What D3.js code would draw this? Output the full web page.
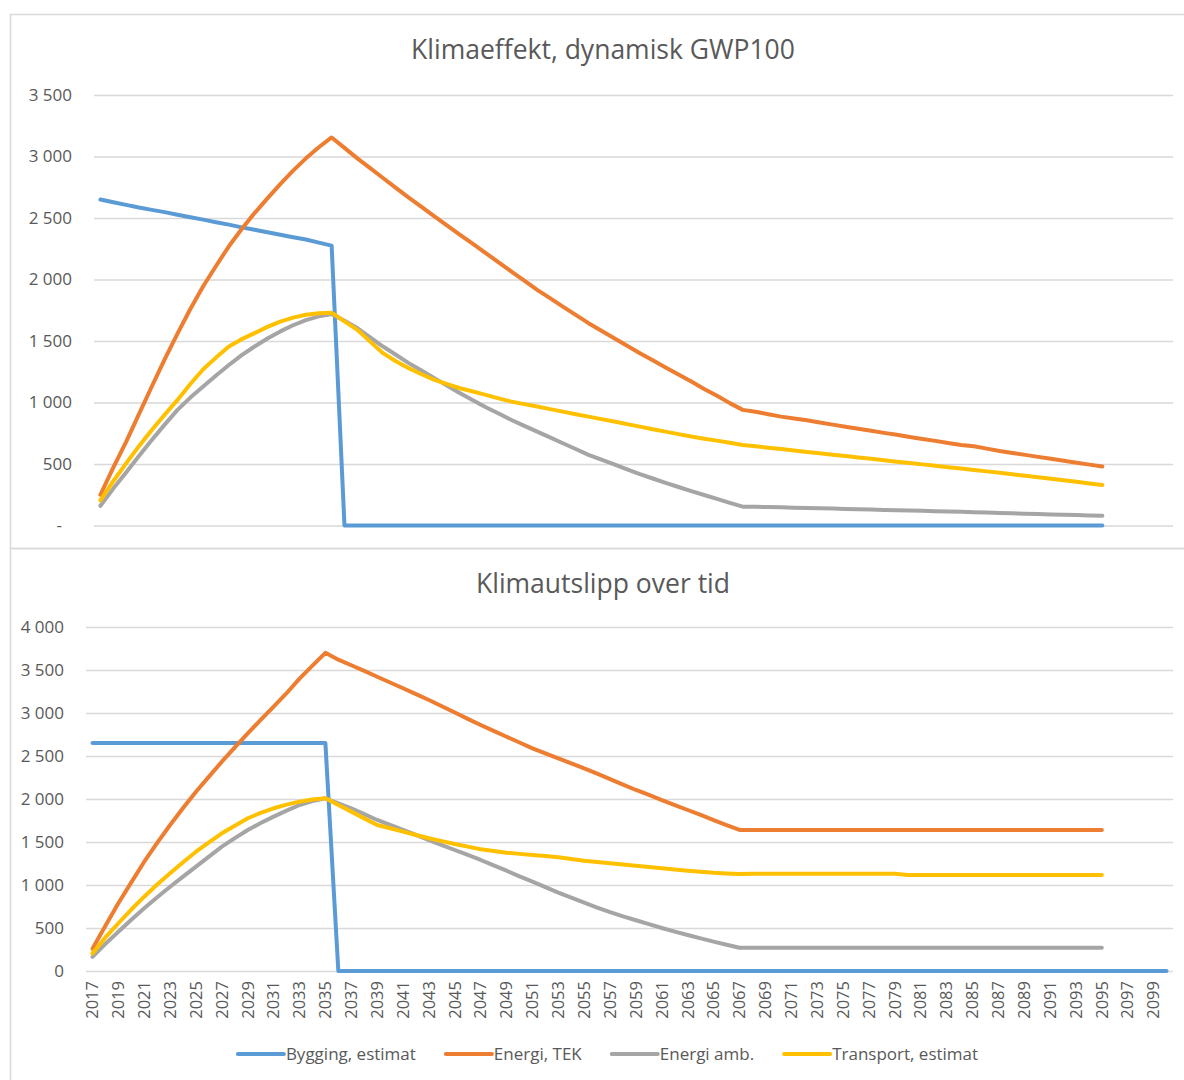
<!DOCTYPE html>
<html>
<head>
<meta charset="utf-8">
<script src="https://cdn.jsdelivr.net/npm/d3@7"></script>
<style>
	body { margin: 0; background: #fff; }
	svg { display: block; }
	text { font-family: "Open Sans", sans-serif; fill: #595959; }
</style>
</head>
<body>
<svg width="1184" height="1080"></svg>
<script>
const years = [2017, 2018, 2019, 2020, 2021, 2022, 2023, 2024, 2025, 2026, 2027, 2028, 2029, 2030,
	2031, 2032, 2033, 2034, 2035, 2036, 2037, 2038, 2039, 2040, 2041, 2042, 2043, 2044, 2045, 2046,
	2047, 2048, 2049, 2050, 2051, 2052, 2053, 2054, 2055, 2056, 2057, 2058, 2059, 2060, 2061, 2062,
	2063, 2064, 2065, 2066, 2067, 2068, 2069, 2070, 2071, 2072, 2073, 2074, 2075, 2076, 2077, 2078,
	2079, 2080, 2081, 2082, 2083, 2084, 2085, 2086, 2087, 2088, 2089, 2090, 2091, 2092, 2093, 2094,
	2095, 2096, 2097, 2098, 2099, 2100]

const seriesNames = ['Bygging, estimat', 'Energi, TEK', 'Energi amb.', 'Transport, estimat']
const colors = ['#5b9bd5', '#ed7d31', '#a5a5a5', '#ffc000']

const titleTop = 'Klimaeffekt, dynamisk GWP100'
const titleBottom = 'Klimautslipp over tid'
const ticksTop = [0, 500, 1000, 1500, 2000, 2500, 3000, 3500]
const ticksBottom = [0, 500, 1000, 1500, 2000, 2500, 3000, 3500, 4000]

// Klimaeffekt, dynamisk GWP100 (2017-2095)
const gwpBygging = [2650, 2628, 2607, 2585, 2566, 2548, 2527, 2506, 2487, 2466, 2446, 2424, 2405, 2384,
	2364, 2344, 2325, 2300, 2275, 0, 0, 0, 0, 0, 0, 0, 0, 0, 0, 0, 0, 0, 0, 0, 0, 0, 0, 0, 0, 0, 0, 0,
	0, 0, 0, 0, 0, 0, 0, 0, 0, 0, 0, 0, 0, 0, 0, 0, 0, 0, 0, 0, 0, 0, 0, 0, 0, 0, 0, 0, 0, 0, 0, 0, 0,
	0, 0, 0, 0]
const gwpEnergiTek = [250, 470, 680, 905, 1130, 1350, 1560, 1760, 1945, 2110, 2270, 2410, 2540, 2660,
	2775, 2885, 2985, 3075, 3155, 3070, 2985, 2905, 2825, 2745, 2665, 2590, 2513, 2438, 2363, 2290,
	2215, 2140, 2065, 1990, 1916, 1848, 1780, 1712, 1645, 1583, 1522, 1462, 1401, 1343, 1285, 1228,
	1170, 1110, 1055, 995, 940, 925, 905, 885, 870, 855, 838, 820, 803, 787, 770, 753, 737, 720, 703,
	688, 670, 655, 645, 625, 606, 590, 574, 558, 542, 527, 510, 495, 480]
const gwpEnergiAmb = [160, 300, 430, 565, 695, 820, 940, 1040, 1130, 1220, 1305, 1385, 1455, 1520,
	1578, 1628, 1670, 1700, 1720, 1665, 1605, 1530, 1455, 1388, 1320, 1260, 1198, 1137, 1076, 1018,
	962, 910, 858, 810, 763, 716, 669, 622, 574, 535, 496, 457, 418, 382, 347, 313, 280, 248, 216, 184,
	153, 152, 150, 148, 145, 142, 140, 138, 135, 132, 130, 127, 124, 122, 119, 116, 113, 111, 108, 105,
	102, 99, 96, 93, 90, 88, 85, 82, 80]
const gwpTransport = [205, 360, 505, 645, 777, 900, 1021, 1150, 1270, 1365, 1455, 1515, 1564, 1615,
	1658, 1690, 1713, 1725, 1730, 1660, 1591, 1495, 1401, 1335, 1279, 1230, 1184, 1150, 1116, 1089,
	1062, 1034, 1007, 987, 967, 946, 926, 905, 885, 865, 845, 824, 804, 783, 763, 743, 723, 706, 690,
	672, 655, 645, 633, 622, 610, 598, 587, 576, 565, 553, 542, 530, 519, 508, 497, 486, 474, 463, 452,
	440, 428, 416, 404, 392, 380, 368, 355, 342, 330]

// Klimautslipp over tid (Bygging 2017-2100, others 2017-2095)
const utslippBygging = [2650, 2650, 2650, 2650, 2650, 2650, 2650, 2650, 2650, 2650, 2650, 2650, 2650,
	2650, 2650, 2650, 2650, 2650, 2650, 0, 0, 0, 0, 0, 0, 0, 0, 0, 0, 0, 0, 0, 0, 0, 0, 0, 0, 0, 0, 0,
	0, 0, 0, 0, 0, 0, 0, 0, 0, 0, 0, 0, 0, 0, 0, 0, 0, 0, 0, 0, 0, 0, 0, 0, 0, 0, 0, 0, 0, 0, 0, 0, 0,
	0, 0, 0, 0, 0, 0, 0, 0, 0, 0, 0]
const utslippEnergiTek = [260, 525, 787, 1030, 1271, 1490, 1698, 1895, 2085, 2260, 2434, 2600, 2764,
	2920, 3073, 3230, 3400, 3550, 3700, 3620, 3555, 3490, 3422, 3355, 3288, 3220, 3151, 3078, 3005,
	2932, 2860, 2792, 2724, 2657, 2589, 2530, 2472, 2415, 2357, 2294, 2231, 2168, 2105, 2047, 1988,
	1930, 1872, 1815, 1755, 1695, 1640, 1640, 1640, 1640, 1640, 1640, 1640, 1640, 1640, 1640, 1640,
	1640, 1640, 1640, 1640, 1640, 1640, 1640, 1640, 1640, 1640, 1640, 1640, 1640, 1640, 1640, 1640,
	1640, 1640]
const utslippEnergiAmb = [165, 315, 457, 595, 729, 857, 980, 1098, 1213, 1330, 1446, 1545, 1640, 1720,
	1795, 1865, 1930, 1975, 2008, 1950, 1892, 1825, 1756, 1698, 1640, 1582, 1523, 1465, 1407, 1349,
	1291, 1228, 1166, 1100, 1039, 975, 911, 852, 794, 738, 684, 636, 590, 545, 500, 458, 418, 380, 342,
	305, 270, 270, 270, 270, 270, 270, 270, 270, 270, 270, 270, 270, 270, 270, 270, 270, 270, 270, 270,
	270, 270, 270, 270, 270, 270, 270, 270, 270, 270]
const utslippTransport = [205, 390, 555, 715, 864, 1005, 1136, 1265, 1387, 1495, 1601, 1690, 1776,
	1838, 1892, 1935, 1969, 1995, 2010, 1930, 1853, 1775, 1698, 1660, 1620, 1582, 1543, 1510, 1477,
	1446, 1415, 1395, 1376, 1362, 1349, 1336, 1322, 1302, 1283, 1268, 1252, 1238, 1224, 1209, 1194,
	1180, 1166, 1155, 1143, 1135, 1128, 1130, 1130, 1130, 1130, 1130, 1130, 1130, 1130, 1130, 1130,
	1130, 1130, 1115, 1115, 1115, 1115, 1115, 1115, 1115, 1115, 1115, 1115, 1115, 1115, 1115, 1115,
	1115, 1115]

const svg = d3.select('svg')
const locale = d3.formatLocale({decimal: ',', thousands: ' ', grouping: [3], currency: ['', '']})
const fmt = locale.format(',')

// panel frames
svg.append('rect')
	.attr('x', 10.5).attr('y', 14.5).attr('width', 1190).attr('height', 534)
	.attr('fill', 'none').attr('stroke', '#d9d9d9').attr('stroke-width', 1.5)
svg.append('rect')
	.attr('x', 10.5).attr('y', 548.5).attr('width', 1190).attr('height', 560)
	.attr('fill', 'none').attr('stroke', '#d9d9d9').attr('stroke-width', 1.5)

const drawChart = ({left, right, yBottom, yTop, yMax, ticks, title, titleY, data, dashZero, xLabels}) => {
	const g = svg.append('g')

	const x = d3.scaleBand().domain(years).range([left, right])
	const cx = d => x(d) + x.bandwidth() / 2
	const y = d3.scaleLinear().domain([0, yMax]).range([yBottom, yTop])

	g.append('text')
		.attr('x', 603).attr('y', titleY)
		.attr('text-anchor', 'middle')
		.style('font-size', '26.5px')
		.text(title)

	const yAxis = g.append('g')
		.attr('transform', `translate(${left},0)`)
		.call(d3.axisLeft(y).tickValues(ticks).tickSize(-(right - left)).tickPadding(22)
			.tickFormat(d => (d === 0 && dashZero) ? '-' : fmt(d)))
	yAxis.select('.domain').remove()
	yAxis.selectAll('line').attr('stroke', '#d9d9d9').attr('stroke-width', 1.5)
	yAxis.selectAll('text')
		.attr('fill', '#595959')
		.style('font-size', '17px')
		.style('font-family', '"Open Sans", sans-serif')
	if (dashZero) yAxis.selectAll('text').filter(d => d === 0).attr('dx', '-10')

	if (xLabels) {
		const xAxis = g.append('g')
			.attr('transform', `translate(0,${yBottom})`)
			.call(d3.axisBottom(x).tickValues(years.filter((d, i) => i % 2 === 0)).tickSize(0))
		xAxis.select('.domain').remove()
		xAxis.selectAll('text')
			.attr('transform', 'rotate(-90)')
			.attr('x', -10).attr('y', 0).attr('dy', '0.35em')
			.attr('text-anchor', 'end')
			.attr('fill', '#595959')
			.style('font-size', '16.5px')
			.style('font-family', '"Open Sans", sans-serif')
	}

	const line = d3.line()
		.x((d, i) => cx(years[i]))
		.y(d => y(d))

	data.forEach((values, k) => {
		g.append('path')
			.datum(values)
			.attr('d', line)
			.attr('fill', 'none')
			.attr('stroke', colors[k])
			.attr('stroke-width', 4)
			.attr('stroke-linejoin', 'round')
			.attr('stroke-linecap', 'round')
	})
}

drawChart({
	left: 94, right: 1173, yBottom: 525.5, yTop: 95, yMax: 3500, ticks: ticksTop,
	title: titleTop, titleY: 59, dashZero: true, xLabels: false,
	data: [gwpBygging, gwpEnergiTek, gwpEnergiAmb, gwpTransport]
})

drawChart({
	left: 86, right: 1173, yBottom: 971, yTop: 627, yMax: 4000, ticks: ticksBottom,
	title: titleBottom, titleY: 593, dashZero: false, xLabels: true,
	data: [utslippBygging, utslippEnergiTek, utslippEnergiAmb, utslippTransport]
})

// legend
const legend = svg.append('g')
const items = legend.selectAll('g').data(seriesNames).join('g')
items.append('line')
	.attr('x1', 0).attr('x2', 46).attr('y1', 0).attr('y2', 0)
	.attr('stroke', (d, i) => colors[i]).attr('stroke-width', 4)
	.attr('stroke-linecap', 'round')
items.append('text')
	.attr('x', 48).attr('dy', '0.35em')
	.style('font-size', '17px')
	.text(d => d)

let pos = 0
const widths = []
items.each(function() {
	widths.push(48 + this.querySelector('text').getComputedTextLength())
})
const gap = 30
const total = d3.sum(widths) + gap * (widths.length - 1)
items.attr('transform', (d, i) => {
	const t = `translate(${pos},0)`
	pos += widths[i] + gap
	return t
})
legend.attr('transform', `translate(${608 - total / 2},1054)`)
</script>
</body>
</html>
